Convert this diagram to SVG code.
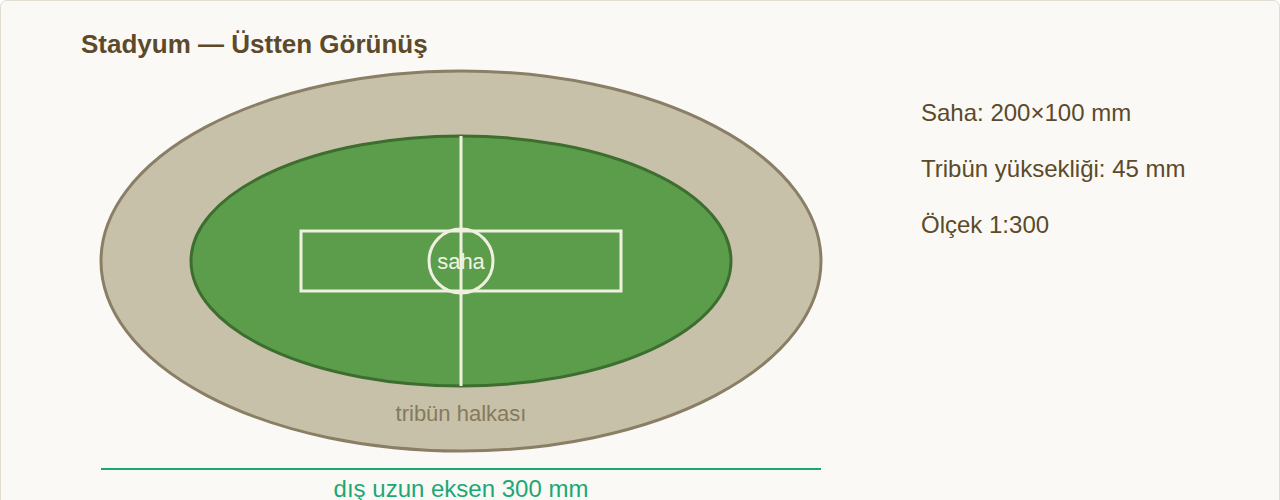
<svg xmlns="http://www.w3.org/2000/svg" width="1280" height="500" viewBox="0 0 1280 500">
<style>
.t{font-family:"Liberation Sans",Arial,sans-serif}
.info{font-size:24px;fill:#5c4a2a}
.line{stroke:#f0f0e0;stroke-width:3;fill:none}
</style>
<rect x="0.5" y="0.5" width="1279" height="560" rx="6" fill="#faf9f5" stroke="#e2ddd0" stroke-width="1"/>
<text class="t" x="81" y="53" font-size="26" font-weight="bold" fill="#5c4a2a">Stadyum — Üstten Görünüş</text>
<g id="tribun">
<ellipse cx="461" cy="261" rx="360" ry="190" fill="#c8c1a9" stroke="#8a7f66" stroke-width="3"/>
<text class="t" x="461" y="421" font-size="22" fill="#857a5e" text-anchor="middle">tribün halkası</text>
</g>
<g id="saha">
<ellipse cx="461" cy="261" rx="270" ry="125" fill="#5b9d4a" stroke="#3d6e30" stroke-width="3"/>
<rect class="line" x="301" y="231" width="320" height="60"/>
<circle class="line" cx="461" cy="261" r="32"/>
<line class="line" x1="461" y1="136" x2="461" y2="386"/>
<text class="t" x="461" y="269" font-size="22" fill="#f0f4e8" text-anchor="middle">saha</text>
</g>
<g id="olcu">
<line x1="101" y1="469" x2="821" y2="469" stroke="#1aa876" stroke-width="2"/>
<text class="t" x="461" y="497" font-size="24" fill="#1aa876" text-anchor="middle">dış uzun eksen 300 mm</text>
</g>
<g id="bilgi">
<text class="t info" x="921" y="121">Saha: 200×100 mm</text>
<text class="t info" x="921" y="177">Tribün yüksekliği: 45 mm</text>
<text class="t info" x="921" y="233">Ölçek 1:300</text>
</g>
</svg>
